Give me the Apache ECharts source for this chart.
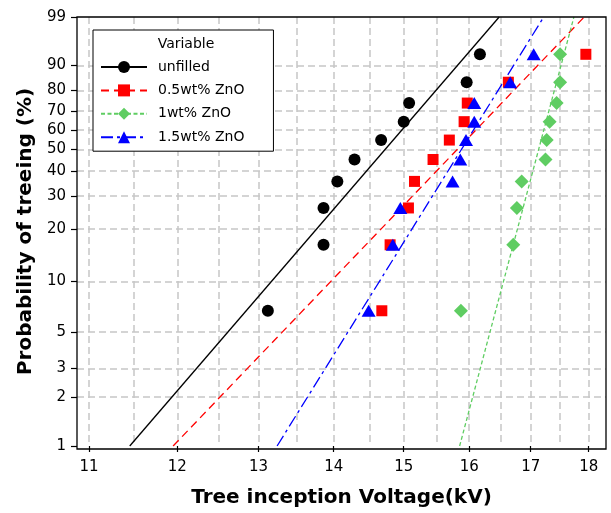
<!DOCTYPE html>
<html><head><meta charset="utf-8">
<script src="https://cdn.jsdelivr.net/npm/echarts@6/dist/echarts.min.js"></script>
<style>html,body{margin:0;padding:0;background:#fff}#c{width:611px;height:513px}</style>
</head><body><div id="c"></div>
<script>
// ---- data ----
const seriesNames = ['unfilled', '0.5wt% ZnO', '1wt% ZnO', '1.5wt% ZnO'];
const probability = [6.7, 16.3, 26.0, 35.6, 45.2, 54.8, 64.4, 74.0, 83.7, 93.3];
const unfilledKV = [13.12, 13.86, 13.86, 14.05, 14.29, 14.67, 15.00, 15.08, 15.96, 16.17];
const zno05KV    = [14.68, 14.80, 15.07, 15.16, 15.44, 15.69, 15.92, 15.97, 16.63, 17.95];
const zno1KV     = [15.87, 16.71, 16.77, 16.85, 17.25, 17.27, 17.32, 17.44, 17.50, 17.50];
const zno15KV    = [14.49, 14.84, 14.95, 15.74, 15.86, 15.95, 16.08, 16.08, 16.66, 17.05];
const fitProb = [1, 99];
const unfilledFitKV = [11.45, 16.48];
const zno05FitKV    = [11.95, 17.92];
const zno1FitKV     = [15.85, 17.74];
const zno15FitKV    = [13.24, 17.22];
const xTickKV = [11, 12, 13, 14, 15, 16, 17, 18];
const xGridKV = [11, 11.5, 12, 12.5, 13, 13.5, 14, 14.5, 15, 15.5, 16, 16.5, 17, 17.5, 18];
const yTickProb = [1, 2, 3, 5, 10, 20, 30, 40, 50, 60, 70, 80, 90, 99];
const yGridProb = [2, 3, 5, 10, 20, 30, 40, 50, 60, 70, 80, 90];
const xRangeKV = [10.87, 18.31];
const yRangeProb = [1, 99];

// ---- scale transforms (log x, Weibull y) ----
const tx = kv => Math.log(kv);
const ty = p => Math.log(-Math.log(1 - p / 100));
const invX = v => Math.exp(v);
const invY = v => (1 - Math.exp(-Math.exp(v))) * 100;

const FONT = 'DejaVu Sans';
const colors = ['#000000', '#ff0000', '#5fcd62', '#0000ff'];
const symbols = ['circle', 'rect', 'diamond', 'triangle'];
const symSizes = [12, 11, [14, 14], [14, 12]];
const dashes = ['solid', [8, 5], [4, 2.5], [12, 4, 3, 4]];
const pointsKV = [unfilledKV, zno05KV, zno1KV, zno15KV];
const fitsKV = [unfilledFitKV, zno05FitKV, zno1FitKV, zno15FitKV];

const series = [];
seriesNames.forEach((name, i) => {
  series.push({
    name, type: 'line', xAxisIndex: 0, yAxisIndex: 0,
    data: fitsKV[i].map((k, j) => [tx(k), ty(fitProb[j])]),
    symbol: symbols[i], showSymbol: false, symbolSize: symSizes[i],
    itemStyle: { color: colors[i] },
    lineStyle: { color: colors[i], width: 1.3, type: dashes[i] },
    silent: true, z: 2, animation: false
  });
});
seriesNames.forEach((name, i) => {
  series.push({
    name, type: 'scatter', xAxisIndex: 0, yAxisIndex: 0,
    data: pointsKV[i].map((k, j) => [tx(k), ty(probability[j])]),
    symbol: symbols[i], symbolSize: symSizes[i],
    itemStyle: { color: colors[i], opacity: 1 },
    z: 3, animation: false
  });
});

const gridLine = { show: true, lineStyle: { color: '#c6c6c6', width: 1.5, type: [7, 4] } };
const chart = echarts.init(document.getElementById('c'), null, { renderer: 'canvas' });
chart.setOption({
  animation: false,
  backgroundColor: '#fff',
  grid: { left: 77, top: 17, width: 529, height: 432, show: false },
  xAxis: [
    {
      type: 'value', position: 'bottom', min: tx(xRangeKV[0]), max: tx(xRangeKV[1]),
      axisLine: { show: false, onZero: false },
      axisTick: { show: true, length: 6, customValues: xTickKV.map(tx), lineStyle: { color: '#000', width: 1.2 } },
      axisLabel: { customValues: xTickKV.map(tx), formatter: v => String(Math.round(invX(v))), color: '#000', fontFamily: FONT, fontSize: 15, margin: 14 },
      splitLine: { show: false },
      name: 'Tree inception Voltage(kV)', nameLocation: 'middle', nameGap: 42,
      nameTextStyle: { color: '#000', fontFamily: FONT, fontSize: 20, fontWeight: 'bold' }
    },
    {
      type: 'value', position: 'top', min: tx(xRangeKV[0]), max: tx(xRangeKV[1]),
      axisLine: { show: false, onZero: false },
      axisTick: { show: false, customValues: xGridKV.map(tx) },
      axisLabel: { show: false, customValues: xGridKV.map(tx) },
      splitLine: gridLine
    }
  ],
  yAxis: [
    {
      type: 'value', position: 'left', min: ty(yRangeProb[0]), max: ty(yRangeProb[1]),
      axisLine: { show: false, onZero: false },
      axisTick: { show: true, length: 6, customValues: yTickProb.map(ty), lineStyle: { color: '#000', width: 1.2 } },
      axisLabel: { customValues: yTickProb.map(ty), formatter: v => String(Math.round(invY(v))), color: '#000', fontFamily: FONT, fontSize: 15, margin: 11 },
      splitLine: { show: false },
      name: 'Probability of treeing (%)', nameLocation: 'middle', nameGap: 40,
      nameTextStyle: { color: '#000', fontFamily: FONT, fontSize: 20, fontWeight: 'bold' }
    },
    {
      type: 'value', position: 'right', min: ty(yRangeProb[0]), max: ty(yRangeProb[1]),
      axisLine: { show: false, onZero: false },
      axisTick: { show: false, customValues: yGridProb.map(ty) },
      axisLabel: { show: false, customValues: yGridProb.map(ty) },
      splitLine: gridLine
    }
  ],
  legend: {
    data: seriesNames, orient: 'vertical', left: 93, top: 30,
    padding: [30, 29, 7, 7], itemWidth: 46, itemHeight: 15, itemGap: 9.4,
    backgroundColor: '#fff', borderColor: '#000', borderWidth: 1,
    selectedMode: false,
    textStyle: { color: '#000', fontFamily: FONT, fontSize: 14, padding: [0, 0, 0, 6] }
  },
  graphic: [
    { type: 'rect', z: 100, silent: true, shape: { x: 77, y: 17, width: 529, height: 432 },
      style: { fill: null, stroke: '#000', lineWidth: 1.3 } },
    { type: 'text', z: 100, silent: true, x: 186, y: 44,
      style: { text: 'Variable', fill: '#000', font: '14px "DejaVu Sans"', textAlign: 'center', textVerticalAlign: 'middle' } }
  ],
  series
});
</script>
</body></html>
